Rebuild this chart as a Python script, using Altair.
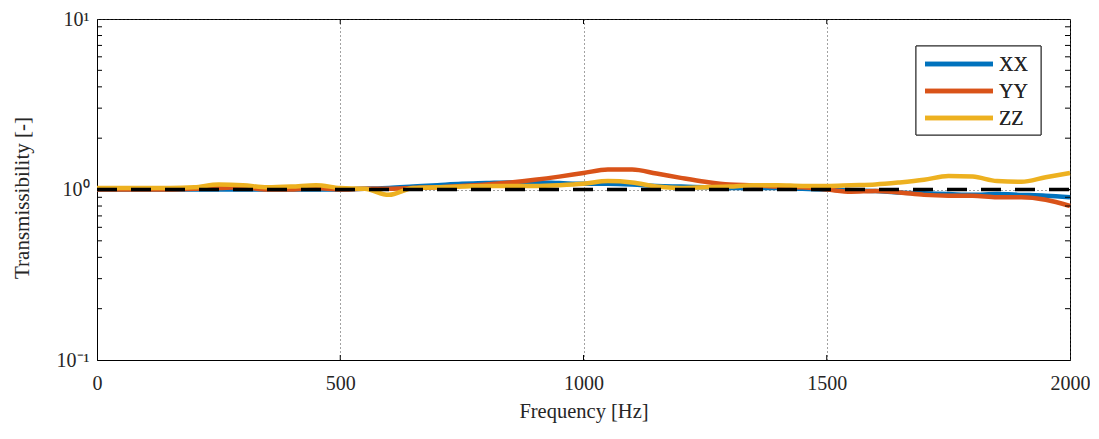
import altair as alt
import pandas as pd

freq = list(range(0, 2001, 50))
xx = [1.00, 1.00, 1.00, 1.00, 1.00, 1.00, 1.00, 1.00, 1.00, 1.00,
      1.00, 1.01, 1.02, 1.04, 1.06, 1.08, 1.09, 1.10, 1.10, 1.09,
      1.08, 1.08, 1.07, 1.05, 1.04, 1.03, 1.02, 1.02, 1.02, 1.01,
      1.00, 0.99, 0.98, 0.96, 0.95, 0.94, 0.93, 0.94, 0.93, 0.92, 0.90]
yy = [1.00, 1.00, 1.00, 1.00, 1.01, 1.02, 1.03, 1.00, 1.00, 1.02,
      1.00, 1.01, 1.01, 1.02, 1.03, 1.05, 1.07, 1.10, 1.14, 1.19,
      1.25, 1.31, 1.31, 1.24, 1.17, 1.11, 1.07, 1.06, 1.04, 1.03,
      1.00, 0.97, 0.98, 0.96, 0.93, 0.92, 0.92, 0.90, 0.90, 0.87, 0.80]
zz = [1.02, 1.02, 1.02, 1.02, 1.03, 1.07, 1.06, 1.03, 1.04, 1.06,
      1.02, 1.01, 0.93, 1.02, 1.03, 1.04, 1.05, 1.05, 1.05, 1.06,
      1.08, 1.12, 1.10, 1.04, 1.02, 1.03, 1.04, 1.06, 1.06, 1.05,
      1.05, 1.06, 1.07, 1.10, 1.14, 1.20, 1.19, 1.12, 1.11, 1.18, 1.25]
names = ["XX", "YY", "ZZ"]
colors = ["#0072BD", "#D95319", "#EDB120"]
x_ticks = [0, 500, 1000, 1500, 2000]
y_ticks = [0.1, 1, 10]
y_minor = [0.2, 0.3, 0.4, 0.5, 0.6, 0.7, 0.8, 0.9, 1, 2, 3, 4, 5, 6, 7, 8, 9]

rows = []
for n, vals in zip(names, [xx, yy, zz]):
    for f, v in zip(freq, vals):
        rows.append({"freq": f, "T": v, "series": n})
df = pd.DataFrame(rows)
ref_df = pd.DataFrame({"freq": [0, 2000], "T": [1, 1]})
ytick_df = pd.DataFrame({"T": y_minor})
xtick_df = pd.DataFrame({"freq": x_ticks[1:-1]})

W, H = 973, 341
TOP = 11
FONT = "Liberation Serif"
xscale = alt.Scale(domain=[0, 2000], nice=False)
yscale = alt.Scale(type="log", domain=[0.1, 10], nice=False)

label_expr = "datum.value < 0.5 ? '10⁻¹' : (datum.value < 5 ? '10⁰' : '10¹')"

x_axis = alt.Axis(values=x_ticks, format="d", labelFlush=False, grid=True,
                  gridDash=[1, 3], gridColor="#444", gridWidth=1, tickSize=0,
                  labelPadding=13, labelFontSize=20, titleFontSize=20.5,
                  titleFontWeight="normal", titlePadding=8,
                  domainColor="black", labelColor="#262626", titleColor="#262626",
                  labelFont=FONT, titleFont=FONT)
y_axis = alt.Axis(values=y_ticks, labelExpr=label_expr, labelFlush=False, grid=True,
                  gridDash=[1, 3], gridColor="#444", gridWidth=1, tickSize=0,
                  labelPadding=8, labelFontSize=20, titleFontSize=21,
                  titleFontWeight="normal",
                  domainColor="black", labelColor="#262626", titleColor="#262626",
                  labelFont=FONT, titleFont=FONT, titleX=-75, titleY=H / 2 + 8,
                  titleAngle=-90, titleAlign="center", titleBaseline="middle")


def X():
    return alt.X("freq:Q", scale=xscale, axis=x_axis, title="Frequency [Hz]")


def Y():
    return alt.Y("T:Q", scale=yscale, axis=y_axis, title="Transmissibility [-]")


lines = alt.Chart(df).mark_line(strokeWidth=4.5, interpolate="monotone").encode(
    x=X(), y=Y(),
    color=alt.Color("series:N", scale=alt.Scale(domain=names, range=colors), legend=None),
    detail="series:N",
)

ref = alt.Chart(ref_df).mark_line(strokeWidth=3.5, strokeDash=[20, 14], color="black").encode(
    x=X(), y=Y())

ytl = alt.Chart(ytick_df).mark_rule(color="black", strokeWidth=1).encode(
    y=Y(), x=alt.value(0), x2=alt.value(5))
ytr = alt.Chart(ytick_df).mark_rule(color="black", strokeWidth=1).encode(
    y=Y(), x=alt.value(W - 5), x2=alt.value(W))
xtb = alt.Chart(xtick_df).mark_rule(color="black", strokeWidth=1).encode(
    x=X(), y=alt.value(H - 5), y2=alt.value(H))
xtt = alt.Chart(xtick_df).mark_rule(color="black", strokeWidth=1).encode(
    x=X(), y=alt.value(0), y2=alt.value(5))

legend_layers = [
    alt.Chart(ref_df).mark_rect(fill="white", stroke="#262626", strokeWidth=1).encode(
        x=alt.value(819), x2=alt.value(944), y=alt.value(27), y2=alt.value(116))
]
for i, (n, c) in enumerate(zip(names, colors)):
    yy_pos = 45 + 27 * i
    legend_layers.append(
        alt.Chart(ref_df).mark_rule(color=c, strokeWidth=4.5).encode(
            x=alt.value(828), x2=alt.value(896), y=alt.value(yy_pos)))
    legend_layers.append(
        alt.Chart(ref_df).mark_text(text=n, font=FONT, fontSize=20, align="left",
                                    baseline="middle", color="#262626").encode(
            x=alt.value(902), y=alt.value(yy_pos + 1)))

chart = alt.layer(lines, ref, ytl, ytr, xtb, xtt, *legend_layers).properties(
    width=W, height=H,
    autosize=alt.AutoSizeParams(type="none"),
    padding={"left": 89, "top": TOP, "right": 20, "bottom": 70},
    background="white",
).configure_view(stroke="black", strokeWidth=1)

chart.save("out.html", embed_options={"renderer": "svg", "actions": False})
